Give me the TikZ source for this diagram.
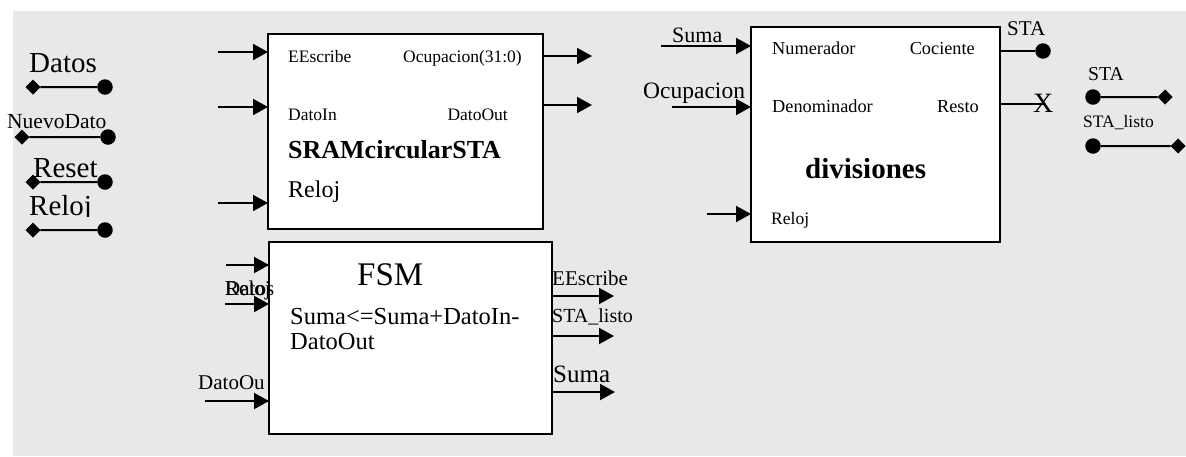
\documentclass[tikz,border=0pt]{standalone}
\usepackage{fontspec}
\setmainfont{Liberation Serif}
\usetikzlibrary{arrows.meta}
\definecolor{panel}{RGB}{232,232,232}
\newcommand\txtsz[1]{\fontsize{#1pt}{#1pt}\selectfont}

\begin{document}
\begin{tikzpicture}[x=1pt,y=-1pt,
  blk/.style={draw,line width=2pt,fill=white,inner sep=0pt,outer sep=0pt},
  sig/.style={line width=2pt,-{Triangle[length=15pt,width=16pt]}},
  wire/.style={line width=2pt},
  pinC/.style={circle,fill=black,minimum size=15.5pt,inner sep=0pt,outer sep=0pt},
  % a square turned by 45 degrees: a diamond about 15pt across
  pinD/.style={rectangle,fill=black,minimum size=10.6pt,rotate=45,inner sep=0pt,outer sep=0pt},
  lbl/.style={inner sep=0pt,anchor=base west},
  lblr/.style={inner sep=0pt,anchor=base east},
]
\useasboundingbox (0,0) rectangle (1186,456);
\fill[white] (0,0) rectangle (1186,456);
\fill[panel] (13,11) rectangle (1186,456);

% ---------- top-level ports ----------
\node[lbl,font=\txtsz{29}] (lDatos) at (29,72) {Datos};
\node[pinD] (datosA) at (33,87) {};
\node[pinC] (datosB) at (105,87) {};
\draw[wire] (datosA) -- (datosB);

\node[lbl,font=\txtsz{21.5}] (lNuevo) at (7,128) {NuevoDato};
\node[pinD] (nuevoA) at (22,137) {};
\node[pinC] (nuevoB) at (108,137) {};
\draw[wire] (nuevoA) -- (nuevoB);

\node[lbl,font=\txtsz{29}] (lReset) at (33,177) {Reset};
\node[pinD] (resetA) at (33,182) {};
\node[pinC] (resetB) at (105,182) {};
\draw[wire] (resetA) -- (resetB);

\begin{scope}
  \clip (0,0) rectangle (200,216);
  \node[lbl,font=\txtsz{29}] (lReloj) at (29,215) {Reloj};
\end{scope}
\node[pinD] (relojA) at (33,230) {};
\node[pinC] (relojB) at (105,230) {};
\draw[wire] (relojA) -- (relojB);

% ---------- SRAMcircularSTA ----------
\node[blk,minimum width=275pt,minimum height=195pt] (sram) at (405.5,131.5) {};
\node[lbl,font=\txtsz{17.5}] at (288,62) {EEscribe};
\node[lblr,font=\txtsz{17.5}] at (522,62) {Ocupacion(31:0)};
\node[lbl,font=\txtsz{17.5}] at (288,120) {DatoIn};
\node[lblr,font=\txtsz{17.5}] at (508,120) {DatoOut};
\node[lbl,font=\txtsz{26}\bfseries] at (288,158) {SRAMcircularSTA};
\node[lbl,font=\txtsz{24}] at (288,197) {Reloj};

\coordinate (sramI1) at (218,52);
\coordinate (sramI2) at (218,107);
\coordinate (sramI3) at (218,203);
\draw[sig] (sramI1) -- (sramI1 -| sram.west);
\draw[sig] (sramI2) -- (sramI2 -| sram.west);
\draw[sig] (sramI3) -- (sramI3 -| sram.west);
\coordinate (sramO1) at (592,56);
\coordinate (sramO2) at (592,105);
\draw[sig] (sramO1 -| sram.east) -- (sramO1);
\draw[sig] (sramO2 -| sram.east) -- (sramO2);

% ---------- FSM ----------
\node[blk,minimum width=283pt,minimum height=192pt] (fsm) at (410.5,338) {};
\node[lbl,font=\txtsz{33}] at (357,285) {FSM};
\node[lbl,font=\txtsz{24.5}] at (290,324) {Suma<=Suma+DatoIn-};
\node[lbl,font=\txtsz{24.5}] at (290,349) {DatoOut};

% two port names printed on top of each other
\node[lbl,font=\txtsz{21}] at (225,295) {Datos};
\node[lbl,font=\txtsz{21}] at (225,295) {Reloj};
\node[lbl,font=\txtsz{21}] at (198,389) {DatoOu};
\coordinate (fsmI1) at (226,265);
\coordinate (fsmI2) at (225,304);
\coordinate (fsmI3) at (205,401);
\draw[sig] (fsmI1) -- (fsmI1 -| fsm.west);
\draw[sig] (fsmI2) -- (fsmI2 -| fsm.west);
\draw[sig] (fsmI3) -- (fsmI3 -| fsm.west);

\node[lbl,font=\txtsz{21}] at (552,285) {EEscribe};
\node[lbl,font=\txtsz{20}] at (552,322) {STA\_listo};
\node[lbl,font=\txtsz{25}] at (553,382) {Suma};
\coordinate (fsmO1) at (614,296);
\coordinate (fsmO2) at (614,336);
\coordinate (fsmO3) at (615,392);
\draw[sig] (fsmO1 -| fsm.east) -- (fsmO1);
\draw[sig] (fsmO2 -| fsm.east) -- (fsmO2);
\draw[sig] (fsmO3 -| fsm.east) -- (fsmO3);

% ---------- divisiones ----------
\node[blk,minimum width=249pt,minimum height=215pt] (div) at (875.5,134.5) {};
\node[lbl,font=\txtsz{18.3}] at (772,54) {Numerador};
\node[lblr,font=\txtsz{18.3}] at (975,54) {Cociente};
\node[lbl,font=\txtsz{18.3}] at (772,112) {Denominador};
\node[lblr,font=\txtsz{18.3}] at (979,112) {Resto};
\node[lbl,font=\txtsz{29}\bfseries] at (805,178) {divisiones};
\node[lbl,font=\txtsz{17.5}] at (771,224) {Reloj};

\node[lbl,font=\txtsz{22}] at (672,42) {Suma};
\node[lbl,font=\txtsz{23.5}] at (643,98) {Ocupacion};
\coordinate (divI1) at (661,46);
\coordinate (divI2) at (672,107);
\coordinate (divI3) at (707,214);
\draw[sig] (divI1) -- (divI1 -| div.west);
\draw[sig] (divI2) -- (divI2 -| div.west);
\draw[sig] (divI3) -- (divI3 -| div.west);

\node[lbl,font=\txtsz{21}] at (1007,35) {STA};
\node[pinC] (cocC) at (1043,51) {};
\draw[wire] (cocC -| div.east) -- (cocC);

\coordinate (restoEnd) at (1045,104);
\draw[wire] (restoEnd -| div.east) -- (restoEnd);
\node[lbl,font=\txtsz{28}] at (1033,112) {X};

% ---------- output ports ----------
\node[lbl,font=\txtsz{19.7}] at (1088,80) {STA};
\node[pinC] (staA) at (1093,97) {};
\node[pinD] (staB) at (1165,97) {};
\draw[wire] (staA) -- (staB);

\node[lbl,font=\txtsz{17.5}] at (1083,127) {STA\_listo};
\node[pinC] (listoA) at (1093,146) {};
\node[pinD] (listoB) at (1178,146) {};
\draw[wire] (listoA) -- (listoB);
\end{tikzpicture}
\end{document}
